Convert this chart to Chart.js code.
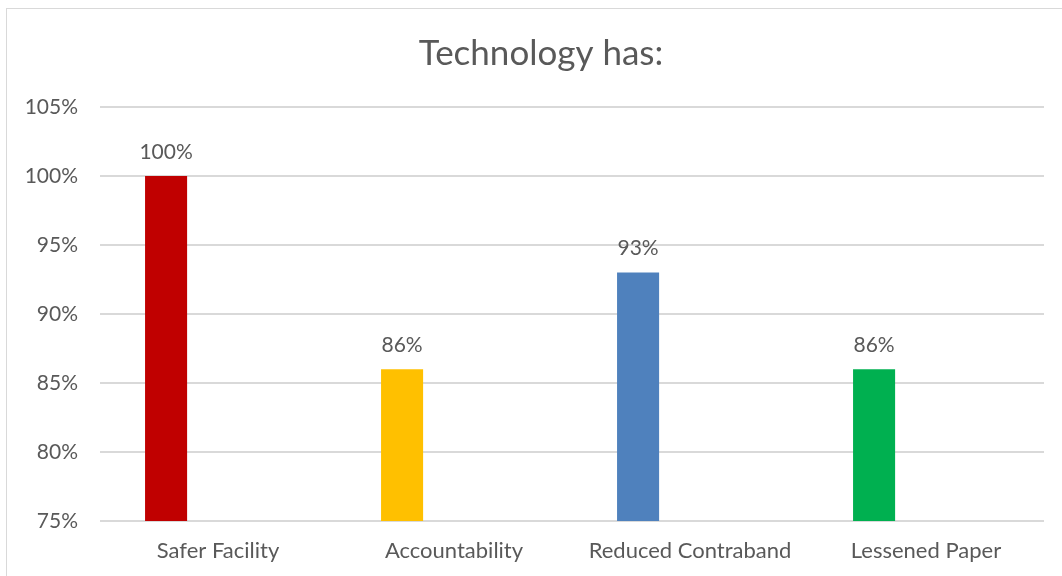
<!DOCTYPE html>
<html>
<head>
<meta charset="utf-8">
<script src="https://cdn.jsdelivr.net/npm/chart.js@4/dist/chart.umd.min.js"></script>
<style>
  html, body { margin: 0; padding: 0; background: #ffffff; }
  #wrap { position: relative; width: 1062px; height: 576px; overflow: hidden; }
  #frame { position: absolute; left: 6px; top: 8px; width: 1100px; height: 620px;
           border: 1px solid #d9d9d9; box-sizing: border-box; pointer-events: none; }
  canvas { position: absolute; left: 0; top: 0; }
</style>
</head>
<body>
<div id="wrap">
  <canvas id="chart" width="1062" height="576"></canvas>
  <div id="frame"></div>
</div>
<script>
// Survey results: share of respondents agreeing with each statement
const categories = ['Safer Facility', 'Accountability', 'Reduced Contraband', 'Lessened Paper'];
const agreePercent = [100, 86, 93, 86];
const barColors = ['#C00000', '#FFC000', '#4F81BD', '#00B050'];
const yTicks = { min: 75, max: 105, step: 5 };
const chartTitle = 'Technology has:';

const TEXT = '#595959';
const FONT = 'Lato, "Liberation Sans", sans-serif';

// Title centred on the framed chart box rather than on the plot area
const titleText = {
  id: 'titleText',
  afterDraw(chart) {
    const ctx = chart.ctx;
    ctx.save();
    ctx.fillStyle = TEXT;
    ctx.font = '35px ' + FONT;
    ctx.textAlign = 'center';
    ctx.textBaseline = 'middle';
    ctx.fillText(chartTitle, 541, 54);
    ctx.restore();
  }
};

// Writes each bar's value above it
const valueLabels = {
  id: 'valueLabels',
  afterDatasetsDraw(chart) {
    const ctx = chart.ctx;
    const meta = chart.getDatasetMeta(0);
    ctx.save();
    ctx.fillStyle = TEXT;
    ctx.font = '21px ' + FONT;
    ctx.textAlign = 'center';
    ctx.textBaseline = 'middle';
    meta.data.forEach((bar, i) => {
      const v = chart.data.datasets[0].data[i];
      if (v == null) return;
      ctx.fillText(v + '%', bar.x, bar.y - 24);
    });
    ctx.restore();
  }
};

new Chart(document.getElementById('chart'), {
  type: 'bar',
  data: {
    labels: categories,
    datasets: [
      { label: 'Agree', data: agreePercent, backgroundColor: barColors, borderWidth: 0 },
      { label: 'Other', data: categories.map(() => null), backgroundColor: '#ffffff', borderWidth: 0 }
    ]
  },
  options: {
    responsive: false,
    animation: false,
    categoryPercentage: 0.88,
    barPercentage: 0.405,
    layout: { padding: { left: 0, right: 18, top: 107, bottom: 0 } },
    plugins: {
      legend: { display: false },
      tooltip: { enabled: false },
      title: { display: false }
    },
    scales: {
      x: {
        grid: { display: false, drawTicks: false },
        border: { display: false },
        ticks: { color: TEXT, font: { family: FONT, size: 22 }, padding: 17, maxRotation: 0 },
        afterFit(scale) { scale.height = 55; }
      },
      y: {
        min: yTicks.min,
        max: yTicks.max,
        grid: { color: '#d9d9d9', lineWidth: 2, drawTicks: false },
        border: { display: false },
        ticks: {
          stepSize: yTicks.step,
          color: TEXT,
          font: { family: FONT, size: 21 },
          padding: 22,
          callback: v => v + '%'
        },
        afterFit(scale) { scale.width = 100; }
      }
    }
  },
  plugins: [valueLabels, titleText]
});
</script>
</body>
</html>
